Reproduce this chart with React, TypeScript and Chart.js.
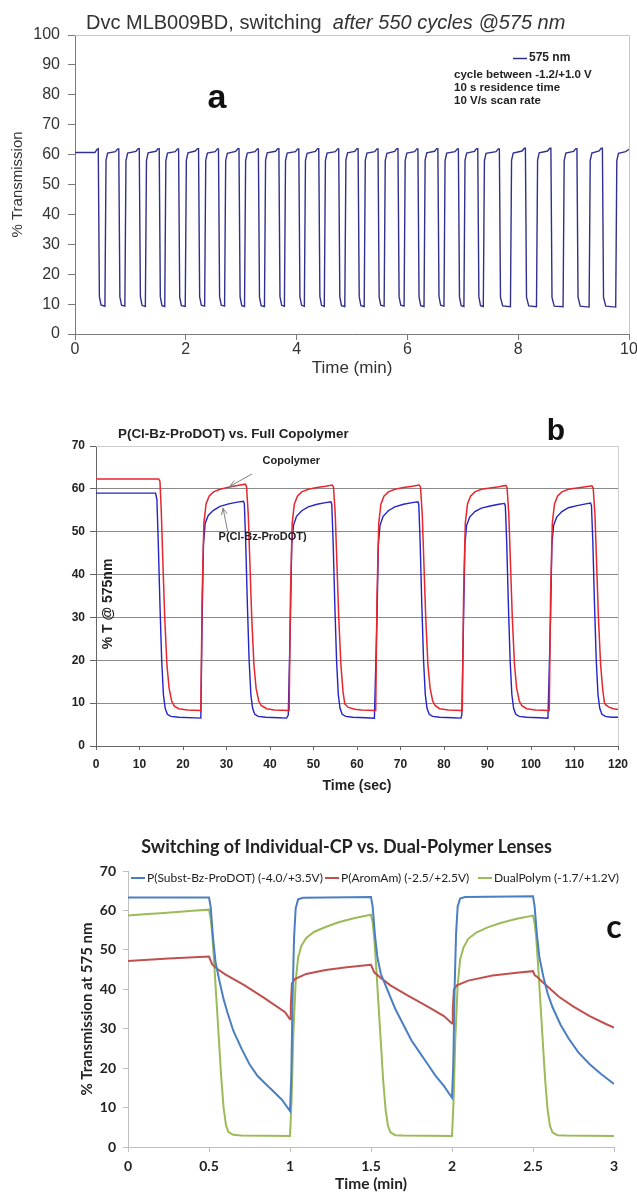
import React, { useEffect, useRef } from "react";
import { Chart, registerables } from "chart.js";

Chart.register(...registerables);

const SANS = "'Liberation Sans', Arial, Helvetica, sans-serif";
const LATO = "Lato, 'Open Sans', 'Liberation Sans', sans-serif";

// ---------------- Panel a : Dvc MLB009BD switching (time in min, %T) ----------------
const aTitleMain = "Dvc MLB009BD, switching  ";
const aTitleItalic = "after 550 cycles @575 nm";
const aSeriesLabel = "575 nm";
const aNotes = ["cycle between -1.2/+1.0 V", "10 s residence time", "10 V/s scan rate"];

const aTime = [
  0, 0.36, 0.4,
  0.42, 0.44, 0.47, 0.54, 0.56, 0.59, 0.73, 0.77,
  0.79, 0.81, 0.84, 0.9, 0.92, 0.95, 1.1, 1.14,
  1.16, 1.18, 1.21, 1.27, 1.29, 1.32, 1.46, 1.5,
  1.52, 1.54, 1.57, 1.62, 1.64, 1.67, 1.81, 1.85,
  1.87, 1.89, 1.92, 1.99, 2.01, 2.04, 2.17, 2.21,
  2.23, 2.25, 2.28, 2.34, 2.36, 2.39, 2.53, 2.57,
  2.59, 2.61, 2.64, 2.7, 2.72, 2.75, 2.9, 2.94,
  2.96, 2.98, 3.01, 3.06, 3.08, 3.11, 3.25, 3.29,
  3.31, 3.33, 3.36, 3.42, 3.44, 3.47, 3.62, 3.66,
  3.68, 3.7, 3.73, 3.78, 3.8, 3.83, 3.98, 4.02,
  4.04, 4.06, 4.09, 4.14, 4.16, 4.19, 4.34, 4.38,
  4.4, 4.42, 4.45, 4.5, 4.52, 4.55, 4.7, 4.74,
  4.76, 4.78, 4.81, 4.87, 4.89, 4.92, 5.05, 5.09,
  5.11, 5.13, 5.16, 5.22, 5.24, 5.27, 5.41, 5.45,
  5.47, 5.49, 5.52, 5.58, 5.6, 5.63, 5.77, 5.81,
  5.83, 5.85, 5.88, 5.94, 5.96, 5.99, 6.13, 6.17,
  6.19, 6.21, 6.24, 6.3, 6.32, 6.35, 6.49, 6.53,
  6.55, 6.57, 6.6, 6.66, 6.68, 6.71, 6.86, 6.9,
  6.92, 6.94, 6.97, 7.02, 7.04, 7.07, 7.21, 7.25,
  7.27, 7.29, 7.32, 7.37, 7.39, 7.42, 7.6, 7.64,
  7.66, 7.68, 7.72, 7.86, 7.88, 7.91, 8.07, 8.11,
  8.13, 8.15, 8.19, 8.33, 8.35, 8.38, 8.53, 8.57,
  8.59, 8.61, 8.65, 8.81, 8.83, 8.86, 9.0, 9.04,
  9.06, 9.08, 9.12, 9.28, 9.3, 9.33, 9.46, 9.5,
  9.52, 9.54, 9.58, 9.76, 9.78, 9.81, 9.94, 10.0,
];
const aTrans = [
  60.7, 60.7, 61.8,
  62.0, 12.5, 9.7, 9.3, 58.2, 60.5, 61.0, 61.9,
  61.9, 12.4, 9.6, 9.3, 58.0, 60.5, 61.1, 62.0,
  62.0, 12.6, 9.6, 9.2, 58.1, 60.6, 61.1, 62.0,
  62.0, 12.5, 9.5, 9.2, 58.0, 60.5, 61.0, 61.9,
  61.9, 12.3, 9.5, 9.2, 58.2, 60.6, 61.2, 62.0,
  62.0, 12.4, 9.6, 9.3, 58.1, 60.5, 61.0, 61.9,
  61.9, 12.5, 9.6, 9.3, 58.0, 60.4, 61.1, 62.0,
  62.0, 12.4, 9.5, 9.2, 58.1, 60.5, 61.0, 61.9,
  61.9, 12.3, 9.5, 9.2, 58.2, 60.6, 61.1, 62.0,
  62.0, 12.5, 9.6, 9.3, 58.0, 60.5, 61.0, 61.9,
  61.9, 12.4, 9.6, 9.3, 58.1, 60.4, 61.1, 62.0,
  62.0, 12.6, 9.6, 9.2, 58.0, 60.5, 61.0, 61.9,
  61.9, 12.4, 9.5, 9.2, 58.2, 60.6, 61.1, 62.0,
  62.0, 12.5, 9.5, 9.2, 58.1, 60.5, 61.0, 61.9,
  61.9, 12.3, 9.6, 9.3, 58.0, 60.4, 61.1, 62.0,
  62.0, 12.5, 9.6, 9.3, 58.1, 60.5, 61.0, 61.9,
  61.9, 12.4, 9.5, 9.2, 58.2, 60.6, 61.1, 62.0,
  62.0, 12.6, 9.6, 9.3, 58.0, 60.5, 61.0, 61.9,
  61.9, 12.4, 9.5, 9.2, 58.1, 60.5, 61.1, 62.0,
  62.0, 12.5, 9.5, 9.2, 58.0, 60.4, 61.0, 61.9,
  61.9, 12.2, 9.4, 9.1, 58.1, 60.5, 61.2, 62.1,
  62.1, 12.3, 9.4, 9.1, 58.2, 60.6, 61.2, 62.1,
  62.1, 12.2, 9.3, 9.1, 58.0, 60.5, 61.1, 62.0,
  62.0, 12.3, 9.3, 9.0, 58.1, 60.5, 61.2, 62.1,
  62.1, 12.2, 9.3, 9.0, 58.0, 60.4, 61.0, 61.8,
];

// ---------------- Panel b : P(Cl-Bz-ProDOT) vs Full Copolymer (time in s, %T) ----------------
const bTitle = "P(Cl-Bz-ProDOT) vs. Full Copolymer";
const bLabels = ["Copolymer", "P(Cl-Bz-ProDOT)"];
const bYTitle = "% T @ 575nm";

const bTimeCo = [
  0, 14.4, 14.7, 15.0, 15.4, 15.8, 16.3, 16.8, 17.4, 18.0, 19.0, 21.0, 24.1,
  24.4, 24.8, 25.3, 26.0, 27.0, 28.5, 30.5, 32.5, 34.3,
  34.6, 35.0, 35.4, 35.8, 36.3, 36.8, 37.4, 38.0, 38.6, 39.2, 41.0, 44.4,
  44.7, 45.1, 45.6, 46.3, 47.3, 48.8, 50.8, 52.8, 54.3,
  54.6, 55.0, 55.4, 55.8, 56.3, 56.8, 57.2, 58.0, 59.5, 61.0, 64.3,
  64.6, 65.0, 65.5, 66.2, 67.2, 68.7, 70.7, 72.7, 74.3,
  74.6, 75.0, 75.4, 75.8, 76.3, 76.8, 77.4, 78.0, 79.0, 81.0, 84.2,
  84.5, 84.9, 85.4, 86.1, 87.1, 88.6, 90.6, 92.6, 94.2,
  94.5, 94.9, 95.3, 95.7, 96.2, 96.7, 97.3, 97.9, 99.0, 101.0, 104.2,
  104.5, 104.9, 105.4, 106.1, 107.1, 108.6, 110.6, 112.6, 114.0,
  114.3, 114.7, 115.1, 115.5, 116.0, 116.5, 116.9, 117.2, 118.0, 119.0, 120.0,
];
const bCopolymer = [
  62.3, 62.3, 61.8, 55, 42, 30, 19, 13.5, 10.5, 9.3, 8.7, 8.4, 8.3,
  35, 52, 56.5, 58.3, 59.3, 59.9, 60.4, 60.8, 61.1,
  60.6, 54, 42, 30, 19, 13.5, 10.5, 9.4, 9.1, 8.7, 8.4, 8.3,
  35, 52, 56.5, 58.3, 59.3, 59.9, 60.3, 60.6, 60.9,
  60.4, 54, 42, 30, 19, 12.5, 9.8, 9.0, 8.6, 8.4, 8.3,
  35, 52, 56.5, 58.3, 59.3, 59.9, 60.3, 60.6, 60.9,
  60.4, 54, 42, 30, 19, 13.5, 10.5, 9.4, 8.7, 8.4, 8.3,
  35, 52, 56.5, 58.3, 59.3, 59.9, 60.2, 60.5, 60.8,
  60.3, 54, 42, 30, 19, 13.5, 10.5, 9.4, 8.7, 8.4, 8.3,
  35, 52, 56.5, 58.3, 59.3, 59.9, 60.2, 60.5, 60.7,
  60.2, 54, 42, 30, 19, 13, 10, 9.6, 9.0, 8.7, 8.5,
];
const bTimeCl = [
  0, 13.7, 14.0, 14.3, 14.7, 15.1, 15.5, 15.9, 16.4, 17.2, 19.0, 24.1,
  24.4, 24.7, 25.1, 25.8, 27.0, 28.5, 30.5, 32.5, 33.9,
  34.1, 34.4, 34.8, 35.2, 35.6, 36.0, 36.5, 37.3, 39.0, 42.0, 43.8, 44.2,
  44.7, 45.0, 45.4, 46.1, 47.3, 48.8, 50.8, 52.8, 54.0,
  54.2, 54.5, 54.9, 55.3, 55.7, 56.1, 56.6, 57.4, 59.0, 62.0, 64.0,
  64.6, 64.9, 65.3, 66.0, 67.2, 68.7, 70.7, 72.7, 74.0,
  74.2, 74.5, 74.9, 75.3, 75.7, 76.1, 76.6, 77.4, 79.0, 82.0, 83.9, 84.1,
  84.5, 84.8, 85.2, 85.9, 87.1, 88.6, 90.6, 92.6, 93.9,
  94.1, 94.4, 94.8, 95.2, 95.6, 96.0, 96.5, 97.3, 99.0, 102.0, 103.9,
  104.5, 104.8, 105.2, 105.9, 107.1, 108.6, 110.6, 112.6, 113.7,
  113.9, 114.2, 114.6, 115.0, 115.4, 115.8, 116.3, 117.1, 118.5, 120.0,
];
const bClBz = [
  59.0, 59.0, 57.5, 48, 33, 20, 12, 8.8, 7.4, 6.9, 6.7, 6.5,
  30, 47, 52, 53.8, 55.0, 55.9, 56.5, 56.9, 57.1,
  56.5, 48, 33, 20, 12, 8.8, 7.4, 6.9, 6.7, 6.6, 6.5, 7.2,
  30, 47, 51.5, 53.6, 54.9, 55.8, 56.4, 56.8, 57.0,
  56.4, 48, 33, 20, 12, 8.8, 7.4, 6.9, 6.7, 6.6, 6.5,
  30, 47, 51.5, 53.6, 54.9, 55.8, 56.4, 56.8, 57.0,
  56.4, 48, 33, 20, 12, 8.8, 7.4, 6.9, 6.7, 6.6, 6.5, 7.3,
  30, 47, 51.5, 53.4, 54.7, 55.5, 56.0, 56.4, 56.6,
  56.0, 48, 33, 20, 12, 8.8, 7.4, 6.9, 6.7, 6.6, 6.5,
  30, 47, 51.5, 53.4, 54.7, 55.6, 56.1, 56.5, 56.7,
  56.1, 48, 33, 20, 12, 8.8, 7.4, 6.9, 6.7, 6.7,
];
// annotation anchors in data units [time s, %T]
const bCoArrow = [35.9, 63.5, 30.8, 60.6];
const bClArrow = [30.3, 49.9, 29.2, 55.5];
const bCoText = [44.9, 66.5];
const bClText = [38.3, 48.8];

// ---------------- Panel c : Individual-CP vs Dual-Polymer lenses (time in min) ----------------
const cTitle = "Switching of Individual-CP vs. Dual-Polymer Lenses";
const cLabels = ["P(Subst-Bz-ProDOT) (-4.0/+3.5V)", "P(AromAm) (-2.5/+2.5V)", "DualPolym (-1.7/+1.2V)"];
const cTimeSubst = [
  0, 0.5, 0.51, 0.525, 0.54, 0.565, 0.59, 0.615, 0.65, 0.7, 0.75, 0.8, 0.85, 0.9, 0.95, 1.0,
  1.008, 1.016, 1.025, 1.035, 1.05, 1.08,
  1.5, 1.51, 1.525, 1.54, 1.56, 1.6, 1.65, 1.7, 1.75, 1.8, 1.85, 1.9, 1.95, 2.0,
  2.008, 2.016, 2.025, 2.035, 2.05, 2.08,
  2.5, 2.51, 2.525, 2.54, 2.565, 2.59, 2.62, 2.67, 2.72, 2.78, 2.85, 2.92, 3.0,
];
const cSubst = [
  63.3, 63.3, 61.0, 53.0, 47.0, 42.0, 37.5, 34.0, 29.5, 25.0, 21.0, 18.0, 16.0, 14.0, 12.0, 9.1,
  18, 38, 53, 60.5, 62.8, 63.2,
  63.4, 61.0, 53.5, 48.0, 44.0, 40.0, 35.0, 31.0, 27.0, 24.0, 21.0, 18.0, 15.5, 12.5,
  21, 40, 54, 61, 63.0, 63.4,
  63.6, 61.0, 53.5, 48.0, 43.0, 39.0, 35.5, 31.0, 27.5, 24.0, 21.0, 18.5, 16.0,
];
const cTimeArom = [
  0, 0.25, 0.5, 0.52, 0.55, 0.6, 0.72, 0.84, 0.97, 1.0,
  1.005, 1.012, 1.03, 1.1, 1.22, 1.35, 1.47, 1.5,
  1.52, 1.56, 1.62, 1.72, 1.85, 1.95, 2.0,
  2.005, 2.012, 2.03, 2.1, 2.25, 2.4, 2.5,
  2.51, 2.53, 2.56, 2.6, 2.66, 2.75, 2.85, 2.95, 3.0,
];
const cArom = [
  47.2, 47.8, 48.3, 46.3, 45.2, 43.8, 41.0, 37.8, 34.2, 32.4,
  36.0, 41.5, 42.6, 43.9, 44.9, 45.6, 46.1, 46.2,
  44.3, 42.9, 41.0, 38.6, 35.6, 33.2, 31.3,
  35.0, 40.0, 41.0, 42.2, 43.5, 44.2, 44.6,
  43.6, 43.0, 41.8, 40.3, 38.1, 35.6, 33.2, 31.2, 30.3,
];
const cTimeDual = [
  0, 0.1, 0.2, 0.3, 0.4, 0.5, 0.51, 0.52, 0.53, 0.545, 0.56, 0.575, 0.59, 0.605, 0.62, 0.65, 0.7, 1.0,
  1.01, 1.02, 1.035, 1.05, 1.07, 1.1, 1.15, 1.22, 1.3, 1.4, 1.5,
  1.51, 1.52, 1.53, 1.545, 1.56, 1.575, 1.59, 1.605, 1.62, 1.65, 1.7, 2.0,
  2.01, 2.02, 2.035, 2.05, 2.07, 2.1, 2.15, 2.22, 2.3, 2.4, 2.5,
  2.51, 2.52, 2.53, 2.545, 2.56, 2.575, 2.59, 2.605, 2.62, 2.65, 2.7, 3.0,
];
const cDual = [
  58.7, 59.0, 59.3, 59.6, 59.9, 60.2, 58.0, 54.0, 48.0, 38.0, 28.0, 18.0, 10.0, 5.5, 3.8, 3.1, 2.9, 2.8,
  12.0, 28.0, 42.0, 48.0, 51.0, 53.0, 54.6, 55.8, 57.0, 58.1, 58.9,
  57.0, 53.0, 47.0, 37.0, 27.0, 17.0, 9.5, 5.3, 3.7, 3.0, 2.9, 2.8,
  12.0, 27.0, 41.0, 47.5, 50.5, 52.8, 54.4, 55.7, 56.8, 57.9, 58.7,
  56.8, 53.0, 47.0, 37.0, 27.0, 17.0, 9.5, 5.3, 3.7, 3.0, 2.9, 2.8,
];

// ---------------- helpers ----------------
function zip(xs: number[], ys: number[]) {
  return xs.map((x, i) => ({ x, y: ys[i] }));
}
function fit(w: number | null, h: number | null) {
  return (s: any) => {
    if (w !== null) s.width = w;
    if (h !== null) s.height = h;
    s.paddingLeft = 0;
    s.paddingRight = 0;
    s.paddingTop = 0;
    s.paddingBottom = 0;
  };
}
function txt(ctx: CanvasRenderingContext2D, s: string, x: number, y: number, font: string, color: string, align: CanvasTextAlign = "left", rot = 0) {
  ctx.save();
  ctx.font = font;
  ctx.fillStyle = color;
  ctx.textAlign = align;
  ctx.textBaseline = "middle";
  ctx.translate(x, y);
  if (rot) ctx.rotate(rot);
  ctx.fillText(s, 0, 0);
  ctx.restore();
}
function arrow(ctx: CanvasRenderingContext2D, x1: number, y1: number, x2: number, y2: number, color: string) {
  ctx.save();
  ctx.strokeStyle = color;
  ctx.lineWidth = 1;
  ctx.beginPath();
  ctx.moveTo(x1, y1);
  ctx.lineTo(x2, y2);
  const a = Math.atan2(y2 - y1, x2 - x1);
  const L = 7;
  const w = 0.42;
  ctx.moveTo(x2 - L * Math.cos(a - w), y2 - L * Math.sin(a - w));
  ctx.lineTo(x2, y2);
  ctx.lineTo(x2 - L * Math.cos(a + w), y2 - L * Math.sin(a + w));
  ctx.stroke();
  ctx.restore();
}
function frameTopRight(chart: any, color: string) {
  const { ctx, chartArea: a } = chart;
  ctx.save();
  ctx.strokeStyle = color;
  ctx.lineWidth = 1;
  ctx.beginPath();
  ctx.moveTo(a.left, Math.round(a.top) + 0.5);
  ctx.lineTo(Math.round(a.right) + 0.5, Math.round(a.top) + 0.5);
  ctx.lineTo(Math.round(a.right) + 0.5, a.bottom);
  ctx.stroke();
  ctx.restore();
}

const common = {
  responsive: false,
  animation: false as const,
  devicePixelRatio: 1,
  events: [] as any[],
};

function configA(): any {
  return {
    type: "line",
    data: {
      datasets: [
        { label: aSeriesLabel, data: zip(aTime, aTrans), borderColor: "#30308f", borderWidth: 1.4, pointRadius: 0, fill: false, tension: 0 },
      ],
    },
    options: {
      ...common,
      layout: { padding: { left: 0, right: 8, top: 35, bottom: 0 } },
      plugins: { legend: { display: false }, tooltip: { enabled: false } },
      scales: {
        x: {
          type: "linear", min: 0, max: 10,
          afterFit: fit(null, 51),
          ticks: { stepSize: 2, autoSkip: false, maxRotation: 0, color: "#333", padding: 2, font: { family: SANS, size: 16, lineHeight: 1 } },
          grid: { drawOnChartArea: false, drawTicks: true, tickLength: 6, tickColor: "#7a7a7a" },
          border: { display: true, color: "#7a7a7a" },
          title: { display: true, text: "Time (min)", color: "#333", font: { family: SANS, size: 17, lineHeight: 1 }, padding: { top: 0, bottom: 8.5 } },
        },
        y: {
          min: 0, max: 100,
          afterFit: fit(75, null),
          ticks: { stepSize: 10, autoSkip: false, color: "#333", padding: 8, font: { family: SANS, size: 16, lineHeight: 1 } },
          grid: { drawOnChartArea: false, drawTicks: true, tickLength: 7, tickColor: "#7a7a7a" },
          border: { display: true, color: "#7a7a7a" },
          title: { display: true, text: "% Transmission", color: "#333", font: { family: SANS, size: 15, lineHeight: 1 }, padding: { top: 10.5, bottom: 0 } },
        },
      },
    },
    plugins: [
      {
        id: "decorA",
        beforeDatasetsDraw(chart: any) {
          frameTopRight(chart, "#c6c6c6");
        },
        afterDraw(chart: any) {
          const ctx = chart.ctx as CanvasRenderingContext2D;
          const f = `20px ${SANS}`;
          txt(ctx, aTitleMain, 86, 23, f, "#333");
          ctx.save();
          ctx.font = f;
          const w = ctx.measureText(aTitleMain).width;
          ctx.restore();
          txt(ctx, aTitleItalic, 86 + w, 23, `italic 20px ${SANS}`, "#333");
          txt(ctx, "a", 217, 99, `bold 34px ${SANS}`, "#111", "center");
          const ds = chart.data.datasets[0];
          ctx.save();
          ctx.strokeStyle = ds.borderColor;
          ctx.lineWidth = 1.5;
          ctx.beginPath();
          ctx.moveTo(513, 58.5);
          ctx.lineTo(527, 58.5);
          ctx.stroke();
          ctx.restore();
          txt(ctx, ds.label, 529, 58, `bold 12px ${SANS}`, "#222");
          aNotes.forEach((n, i) => txt(ctx, n, 454, 75 + 13 * i, `bold 11.5px ${SANS}`, "#222"));
        },
      },
    ],
  };
}

function configB(): any {
  return {
    type: "line",
    data: {
      datasets: [
        { label: bLabels[0], data: zip(bTimeCo, bCopolymer), borderColor: "#e8262e", borderWidth: 1.5, pointRadius: 0, fill: false, tension: 0 },
        { label: bLabels[1], data: zip(bTimeCl, bClBz), borderColor: "#2424c8", borderWidth: 1.4, pointRadius: 0, fill: false, tension: 0 },
      ],
    },
    options: {
      ...common,
      layout: { padding: { left: 0, right: 19, top: 61, bottom: 0 } },
      plugins: { legend: { display: false }, tooltip: { enabled: false } },
      scales: {
        x: {
          type: "linear", min: 0, max: 120,
          afterFit: fit(null, 54),
          ticks: { stepSize: 10, autoSkip: false, maxRotation: 0, color: "#222", padding: 9, font: { family: SANS, size: 12, weight: "bold", lineHeight: 1 } },
          grid: { drawOnChartArea: false, drawTicks: true, tickLength: 4, tickColor: "#666" },
          border: { display: true, color: "#666" },
          title: { display: true, text: "Time (sec)", color: "#222", font: { family: SANS, size: 14, weight: "bold", lineHeight: 1 }, padding: { top: 0, bottom: 7 } },
        },
        y: {
          min: 0, max: 70,
          afterFit: fit(96, null),
          ticks: { stepSize: 10, autoSkip: false, color: "#222", padding: 5, font: { family: SANS, size: 12, weight: "bold", lineHeight: 1 } },
          grid: {
            drawOnChartArea: true, drawTicks: true, tickLength: 6, tickColor: "#666",
            color: (c: any) => (c.tick && c.tick.value === 0 ? "rgba(0,0,0,0)" : c.tick && c.tick.value === 70 ? "#cfcfcf" : "#8a8a8a"),
          },
          border: { display: true, color: "#666" },
        },
      },
    },
    plugins: [
      {
        id: "decorB",
        beforeDatasetsDraw(chart: any) {
          frameTopRight(chart, "#cfcfcf");
        },
        afterDraw(chart: any) {
          const ctx = chart.ctx as CanvasRenderingContext2D;
          const xs = chart.scales.x;
          const ys = chart.scales.y;
          const px = (v: number) => xs.getPixelForValue(v);
          const py = (v: number) => ys.getPixelForValue(v);
          txt(ctx, bTitle, 118, 49, `bold 13.4px ${SANS}`, "#222");
          txt(ctx, "b", 556, 47, `bold 30px ${SANS}`, "#111", "center");
          txt(ctx, bYTitle, 108, 219, `bold 14px ${SANS}`, "#222", "center", -Math.PI / 2);
          arrow(ctx, px(bCoArrow[0]), py(bCoArrow[1]), px(bCoArrow[2]), py(bCoArrow[3]), "#808080");
          arrow(ctx, px(bClArrow[0]), py(bClArrow[1]), px(bClArrow[2]), py(bClArrow[3]), "#808080");
          txt(ctx, bLabels[0], px(bCoText[0]), py(bCoText[1]), `bold 11px ${SANS}`, "#222", "center");
          txt(ctx, bLabels[1], px(bClText[0]), py(bClText[1]), `bold 11px ${SANS}`, "#222", "center");
        },
      },
    ],
  };
}

function configC(): any {
  const colors = ["#4a7fc1", "#c0504d", "#9bbb59"];
  return {
    type: "line",
    data: {
      datasets: [
        { label: cLabels[0], data: zip(cTimeSubst, cSubst), borderColor: colors[0], borderWidth: 2, pointRadius: 0, fill: false, tension: 0 },
        { label: cLabels[1], data: zip(cTimeArom, cArom), borderColor: colors[1], borderWidth: 2, pointRadius: 0, fill: false, tension: 0 },
        { label: cLabels[2], data: zip(cTimeDual, cDual), borderColor: colors[2], borderWidth: 2, pointRadius: 0, fill: false, tension: 0 },
      ],
    },
    options: {
      ...common,
      layout: { padding: { left: 0, right: 23, top: 71, bottom: 0 } },
      plugins: { legend: { display: false }, tooltip: { enabled: false } },
      scales: {
        x: {
          type: "linear", min: 0, max: 3,
          afterFit: fit(null, 46),
          ticks: {
            stepSize: 0.5, autoSkip: false, maxRotation: 0, color: "#222", padding: 7,
            font: { family: LATO, size: 14, weight: "bold", lineHeight: 1 },
            callback: (v: any) => String(Math.round(Number(v) * 10) / 10),
          },
          grid: { drawOnChartArea: false, drawTicks: true, tickLength: 5, tickColor: "#bfbfbf" },
          border: { display: true, color: "#bfbfbf" },
          title: { display: true, text: "Time (min)", color: "#222", font: { family: LATO, size: 15.5, weight: "bold", lineHeight: 1 }, padding: { top: 0, bottom: 1.5 } },
        },
        y: {
          min: 0, max: 70,
          afterFit: fit(128, null),
          ticks: { stepSize: 10, autoSkip: false, color: "#222", padding: 7, font: { family: LATO, size: 14, weight: "bold", lineHeight: 1 } },
          grid: { drawOnChartArea: false, drawTicks: true, tickLength: 5, tickColor: "#bfbfbf" },
          border: { display: true, color: "#bfbfbf" },
          title: { display: true, text: "% Transmission at 575 nm", color: "#222", font: { family: LATO, size: 15, weight: "bold", lineHeight: 1 }, padding: { top: 79.5, bottom: 0 } },
        },
      },
    },
    plugins: [
      {
        id: "decorC",
        afterDraw(chart: any) {
          const ctx = chart.ctx as CanvasRenderingContext2D;
          txt(ctx, cTitle, 346.5, 47, `bold 18px ${LATO}`, "#222", "center");
          const lx = [131, 325, 478];
          chart.data.datasets.forEach((ds: any, i: number) => {
            ctx.save();
            ctx.strokeStyle = ds.borderColor;
            ctx.lineWidth = 2;
            ctx.beginPath();
            ctx.moveTo(lx[i], 78);
            ctx.lineTo(lx[i] + 14, 78);
            ctx.stroke();
            ctx.restore();
            txt(ctx, ds.label, lx[i] + 16, 78, `12px ${LATO}`, "#222");
          });
          txt(ctx, "c", 614, 128, `bold 32px ${LATO}`, "#111", "center");
        },
      },
    ],
  };
}

export default function App() {
  const aRef = useRef<HTMLCanvasElement>(null);
  const bRef = useRef<HTMLCanvasElement>(null);
  const cRef = useRef<HTMLCanvasElement>(null);

  useEffect(() => {
    const charts = [
      new Chart(aRef.current as HTMLCanvasElement, configA()),
      new Chart(bRef.current as HTMLCanvasElement, configB()),
      new Chart(cRef.current as HTMLCanvasElement, configC()),
    ];
    return () => charts.forEach((c) => c.destroy());
  }, []);

  return (
    <div style={{ position: "absolute", left: 0, top: 0, width: 637, height: 1193, background: "#fff", overflow: "hidden" }}>
      <canvas ref={aRef} width={637} height={385} style={{ position: "absolute", left: 0, top: 0, width: 637, height: 385 }} />
      <canvas ref={bRef} width={637} height={415} style={{ position: "absolute", left: 0, top: 385, width: 637, height: 415 }} />
      <canvas ref={cRef} width={637} height={393} style={{ position: "absolute", left: 0, top: 800, width: 637, height: 393 }} />
    </div>
  );
}
